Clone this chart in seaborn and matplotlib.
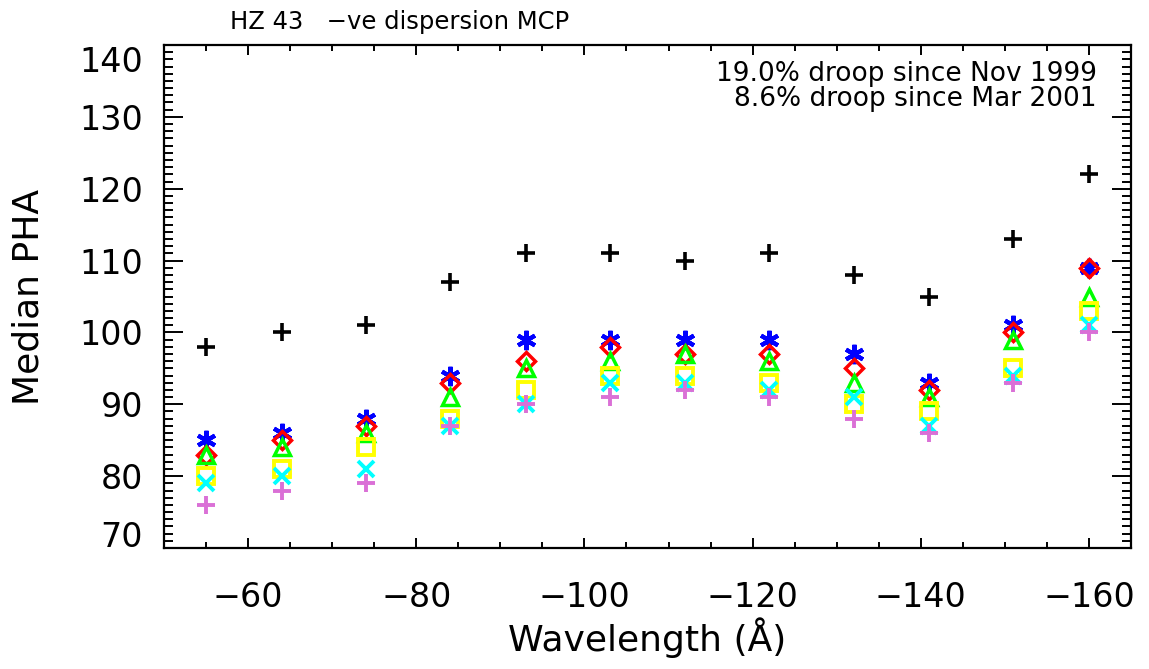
import matplotlib
matplotlib.use("Agg")
import matplotlib.pyplot as plt
import seaborn as sns
import pandas as pd
from matplotlib.ticker import MultipleLocator
from matplotlib.transforms import ScaledTranslation

wavelength = [-55, -64, -74, -84, -93, -103, -112, -122, -132, -141, -151, -160]

pha_black = [98, 100, 101, 107, 111, 111, 110, 111, 108, 105, 113, 122]
pha_blue = [85, 86, 88, 94, 99, 99, 99, 99, 97, 93, 101, 109]
pha_red = [83, 85, 87, 93, 96, 98, 97, 97, 95, 92, 100, 109]
pha_green = [83, 84, 86, 91, 95, 96, 97, 96, 93, 91, 99, 105]
pha_yellow = [80, 81, 84, 88, 92, 94, 94, 93, 90, 89, 95, 103]
pha_cyan = [79, 80, 81, 87, 90, 93, 93, 92, 91, 87, 94, 101]
pha_pink = [76, 78, 79, 87, 90, 91, 92, 91, 88, 86, 93, 100]

title_text = "HZ 43   \u2212ve dispersion MCP"
note_lines = ["19.0% droop since Nov 1999", "8.6% droop since Mar 2001"]
x_label = "Wavelength (\u00c5)"
y_label = "Median PHA"

sns.set_style("ticks")
plt.rcParams["font.family"] = ["DejaVu Sans"]
plt.rcParams.update({"text.color": "black", "axes.labelcolor": "black",
                     "xtick.color": "black", "ytick.color": "black",
                     "axes.edgecolor": "black"})

W, H = 1149, 669
fig = plt.figure(figsize=(W / 100, H / 100), dpi=100)
ax = fig.add_axes([164 / W, 1 - 548 / H, (1131 - 164) / W, (548 - 45) / H])

series = [
    (pha_black, "black", "+", 13, 2.6),
    (pha_blue, "#0000ff", (6, 2, 0), 14, 3.0),
    (pha_red, "#ff0000", "D", 9.5, 2.5),
    (pha_green, "#00ff00", "^", 12, 2.5),
    (pha_yellow, "#ffff00", "s", 11.5, 2.8),
    (pha_cyan, "#00ffff", "x", 11.5, 2.8),
    (pha_pink, "#da70d6", "+", 13, 2.8),
]

for vals, col, mk, ms, mew in series:
    df = pd.DataFrame({"wl": wavelength, "pha": vals})
    sns.lineplot(data=df, x="wl", y="pha", ax=ax, estimator=None, sort=False,
                 linestyle="none", marker=mk, markersize=ms,
                 markerfacecolor="none", markeredgecolor=col,
                 markeredgewidth=mew, color=col)

ax.set_xlim(-50, -165)
ax.set_ylim(70, 140)
ax.xaxis.set_major_locator(MultipleLocator(20))
ax.xaxis.set_minor_locator(MultipleLocator(5))
ax.yaxis.set_major_locator(MultipleLocator(10))
ax.yaxis.set_minor_locator(MultipleLocator(1))

ax.tick_params(axis="both", which="both", direction="in", top=True, right=True,
               width=1.4, color="black")
ax.tick_params(axis="x", which="major", length=7.5, labelsize=24, pad=24)
ax.tick_params(axis="x", which="minor", length=4)
ax.tick_params(axis="y", which="major", length=14, labelsize=24, pad=15)
ax.tick_params(axis="y", which="minor", length=6.5)
for sp in ax.spines.values():
    sp.set_linewidth(1.6)
    sp.set_color("black")

ax.set_xlabel(x_label, fontsize=26, labelpad=2)
ax.set_ylabel(y_label, fontsize=26)
ax.yaxis.set_label_coords((46 - 164) / 967, 0.5)

fig.text(230 / W, 1 - 29 / H, title_text, fontsize=17.5, ha="left", va="baseline")
fig.text(1097 / W, 1 - 81 / H, note_lines[0], fontsize=19, ha="right", va="baseline")
fig.text(1097 / W, 1 - 106 / H, note_lines[1], fontsize=19, ha="right", va="baseline")

fig.canvas.draw()
for lab in ax.get_yticklabels():
    if lab.get_text() == "140":
        lab.set_transform(lab.get_transform() + ScaledTranslation(0, -0.14, fig.dpi_scale_trans))
    elif lab.get_text() == "70":
        lab.set_transform(lab.get_transform() + ScaledTranslation(0, 0.14, fig.dpi_scale_trans))

fig.savefig("out.png", dpi=100)
